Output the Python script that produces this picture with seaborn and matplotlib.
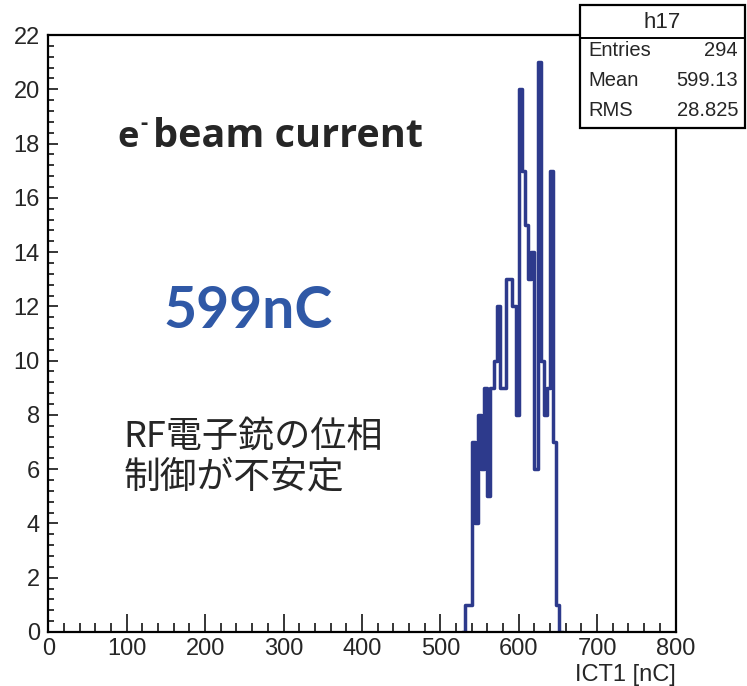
import numpy as np
import pandas as pd
import matplotlib
matplotlib.use("Agg")
import matplotlib.pyplot as plt
from matplotlib.ticker import MultipleLocator
from matplotlib.patches import Rectangle
import seaborn as sns

# ---- data (histogram h17, bin width 4 nC; empty bins at both ends) ----
bin_lefts = [528, 532, 536, 540, 544, 548, 552, 556, 560, 564, 568,
             572, 576, 580, 584, 588, 592, 596, 600, 604, 608,
             612, 616, 620, 624, 628, 632, 636, 640, 644, 648, 652]
counts = [0, 1, 1, 7, 4, 8, 6, 9, 5, 9, 10,
          12, 9, 9, 13, 13, 12, 8, 20, 17, 15,
          13, 14, 6, 21, 10, 8, 9, 17, 7, 1, 0]
bin_width = 4
x_range = (0, 800)
y_max = 22
x_ticks = list(range(0, 801, 100))
y_ticks = list(range(0, 23, 2))
stats_title = "h17"
stats_rows = [("Entries", "294"), ("Mean", "599.13"), ("RMS", "28.825")]
x_label = "ICT1 [nC]"

df = pd.DataFrame({"ict": np.array(bin_lefts, dtype=float) + bin_width / 2,
                   "n": np.array(counts, dtype=float)})

sns.set_style("ticks")
plt.rcParams["font.family"] = ["Liberation Sans", "DejaVu Sans"]

W, H = 747, 686
fig = plt.figure(figsize=(W / 100, H / 100), dpi=100)
L, R, T, B = 48.3, 675.5, 35, 632
ax = fig.add_axes([L / W, 1 - B / H, (R - L) / W, (B - T) / H])

sns.histplot(data=df, x="ict", weights="n", binwidth=bin_width,
             binrange=(bin_lefts[0], bin_lefts[-1] + bin_width), element="step",
             fill=False, color="#2d3a8c", linewidth=2.5, ax=ax)

ax.set_xlim(*x_range)
ax.set_ylim(0, y_max)
ax.set_xticks(x_ticks)
ax.set_yticks(y_ticks)
ax.xaxis.set_minor_locator(MultipleLocator(20))
ax.yaxis.set_minor_locator(MultipleLocator(0.4))
ax.tick_params(axis="x", which="major", direction="in", length=13, width=1.3,
               labelsize=17, pad=4, top=False)
ax.tick_params(axis="x", which="minor", direction="in", length=6.5, width=1.3, top=False)
ax.tick_params(axis="y", which="major", direction="in", length=7, width=1.3,
               labelsize=17, pad=6, right=False)
ax.tick_params(axis="y", which="minor", direction="in", length=4, width=1.3, right=False)
for s in ax.spines.values():
    s.set_visible(True)
    s.set_linewidth(1.6)
    s.set_color("black")
    s.set_zorder(3)
ax.set_ylabel("")
ax.set_xlabel(x_label, loc="right", fontsize=17, labelpad=3)

def fx(px):
    return px / W

def fy(py):
    return 1 - py / H

# stats box
bx0, bx1, by0, by1, byt = 580, 745, 5, 128, 38
fig.patches.append(Rectangle((fx(bx0), fy(by1)), fx(bx1) - fx(bx0), fy(by0) - fy(by1),
                             transform=fig.transFigure, facecolor="white",
                             edgecolor="black", linewidth=1.6, zorder=5))
fig.lines.append(plt.Line2D([fx(bx0), fx(bx1)], [fy(byt), fy(byt)],
                            transform=fig.transFigure, color="black", linewidth=1.4, zorder=6))
fig.text(fx((bx0 + bx1) / 2), fy(22), stats_title, ha="center", va="center",
         fontsize=16, zorder=7)
for i, (k, v) in enumerate(stats_rows):
    yy = 51 + 30 * i
    fig.text(fx(588), fy(yy), k, ha="left", va="center", fontsize=14.5, zorder=7)
    fig.text(fx(738), fy(yy), v, ha="right", va="center", fontsize=14.5, zorder=7)

# annotations
bold_fam = ["Open Sans", "DejaVu Sans"]
fig.text(fx(117), fy(147), "e", ha="left", va="baseline", fontsize=26,
         fontweight="bold", family=bold_fam)
fig.text(fx(140), fy(129), "-", ha="left", va="baseline", fontsize=16,
         fontweight="bold", family=bold_fam)
fig.text(fx(153), fy(147), "beam current", ha="left", va="baseline", fontsize=28.5,
         fontweight="bold", family=bold_fam)
fig.text(fx(163), fy(328), "599nC", ha="left", va="baseline", fontsize=41,
         fontweight="bold", color="#2f58a6", family=["Lato", "DejaVu Sans"])
fig.text(fx(123), fy(437), "RF電子銃の位相", ha="left", va="center", fontsize=26,
         family=["Noto Sans CJK JP", "DejaVu Sans"])
fig.text(fx(123), fy(478), "制御が不安定", ha="left", va="center", fontsize=26.5,
         family=["Noto Sans CJK JP", "DejaVu Sans"])

fig.savefig("out.png", dpi=100, facecolor="white")
